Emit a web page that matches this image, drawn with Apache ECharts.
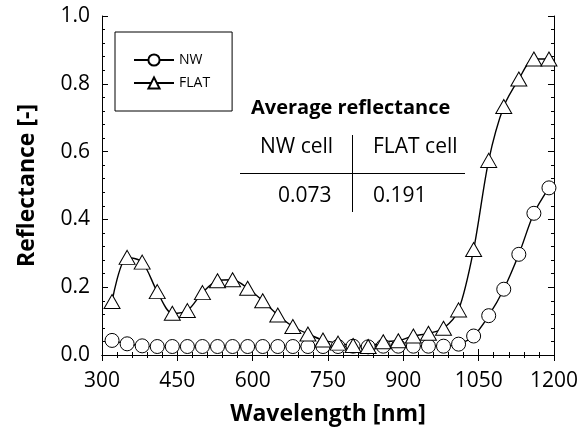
<!DOCTYPE html>
<html><head><meta charset="utf-8">
<script src="https://cdn.jsdelivr.net/npm/echarts@6/dist/echarts.min.js"></script>
<style>html,body{margin:0;padding:0;background:#fff}#c{width:581px;height:436px}</style>
</head><body><div id="c"></div>
<script>
const wavelengths = [320,350,380,410,440,470,500,530,560,590,620,650,680,710,740,770,800,830,860,890,920,950,980,1010,1040,1070,1100,1130,1160,1190];
const nwValues   = [0.043,0.033,0.027,0.025,0.025,0.025,0.025,0.025,0.025,0.025,0.025,0.025,0.025,0.025,0.025,0.025,0.026,0.024,0.026,0.026,0.026,0.026,0.026,0.032,0.056,0.116,0.194,0.297,0.418,0.493];
const flatValues = [0.158,0.288,0.274,0.187,0.123,0.131,0.184,0.219,0.222,0.197,0.160,0.118,0.084,0.062,0.044,0.035,0.028,0.025,0.039,0.042,0.056,0.064,0.079,0.133,0.311,0.574,0.733,0.814,0.873,0.873];
const seriesNames = ['NW','FLAT'];
const xTicks = [300,450,600,750,900,1050,1200];
const yTicks = [0,0.2,0.4,0.6,0.8,1.0];
const tableTitle = 'Average reflectance';
const tableHeaders = ['NW cell','FLAT cell'];
const tableValues = ['0.073','0.191'];

const FONT = '"Open Sans", "Noto Sans", sans-serif';
const chart = echarts.init(document.getElementById('c'), null, {renderer:'canvas'});
const pair = (xs, ys) => xs.map((x,i)=>[x, ys[i]]);
const axisCommon = {
  axisLine:{show:true, lineStyle:{color:'#000', width:1}},
  splitLine:{show:false},
};
chart.setOption({
  animation:false,
  backgroundColor:'#fff',
  grid:{left:102, right:26, top:16, bottom:81, containLabel:false},
  legend:{
    orient:'vertical', left:115, top:32,
    data:seriesNames,
    itemWidth:40, itemHeight:14, itemGap:9,
    padding:[21,22,21,18],
    borderColor:'#000', borderWidth:1,
    textStyle:{fontFamily:FONT, fontSize:14, color:'#000'}
  },
  xAxis:[
    Object.assign({type:'value', min:xTicks[0], max:xTicks[xTicks.length-1], interval:150,
      axisTick:{show:true, inside:true, length:6, lineStyle:{color:'#000'}},
      minorTick:{show:true, splitNumber:5, length:3, lineStyle:{color:'#000'}},
      axisLabel:{fontFamily:FONT, fontSize:21, color:'#000', margin:16, formatter:v=>String(v)},
      name:'Wavelength [nm]', nameLocation:'middle', nameGap:48,
      nameTextStyle:{fontFamily:FONT, fontSize:23, fontWeight:'bold', color:'#000'}
    }, axisCommon),
    Object.assign({type:'value', position:'top', min:xTicks[0], max:xTicks[xTicks.length-1], interval:150,
      axisTick:{show:true, inside:true, length:6, lineStyle:{color:'#000'}},
      minorTick:{show:true, splitNumber:5, length:3, lineStyle:{color:'#000'}},
      axisLabel:{show:false}
    }, axisCommon)
  ],
  yAxis:[
    Object.assign({type:'value', min:yTicks[0], max:yTicks[yTicks.length-1], interval:0.2,
      axisTick:{show:true, inside:true, length:6, lineStyle:{color:'#000'}},
      minorTick:{show:true, splitNumber:5, length:3, lineStyle:{color:'#000'}},
      axisLabel:{fontFamily:FONT, fontSize:21, color:'#000', margin:12, formatter:v=>v.toFixed(1)},
      name:'Reflectance [-]', nameLocation:'middle', nameGap:63, nameRotate:90,
      nameTextStyle:{fontFamily:FONT, fontSize:23, fontWeight:'bold', color:'#000'}
    }, axisCommon),
    Object.assign({type:'value', position:'right', min:yTicks[0], max:yTicks[yTicks.length-1], interval:0.2,
      axisTick:{show:true, inside:true, length:6, lineStyle:{color:'#000'}},
      minorTick:{show:true, splitNumber:5, length:3, lineStyle:{color:'#000'}},
      axisLabel:{show:false}
    }, axisCommon)
  ],
  series:[
    {name:seriesNames[0], type:'line', data:pair(wavelengths,nwValues), smooth:0.3,
     symbol:'circle', symbolSize:14, showAllSymbol:true,
     lineStyle:{color:'#000', width:1.4},
     itemStyle:{color:'#fff', borderColor:'#000', borderWidth:1}},
    {name:seriesNames[1], type:'line', data:pair(wavelengths,flatValues), smooth:0.3,
     symbol:'triangle', symbolSize:[16,14], showAllSymbol:true,
     lineStyle:{color:'#000', width:1.4},
     itemStyle:{color:'#fff', borderColor:'#000', borderWidth:1}}
  ],
  graphic:[
    {type:'text', left:251, top:98, style:{text:tableTitle, font:'bold 20px '+FONT, fill:'#000'}},
    {type:'text', left:260, top:137, style:{text:tableHeaders[0], font:'21px '+FONT, fill:'#000'}},
    {type:'text', left:373, top:137, style:{text:tableHeaders[1], font:'21px '+FONT, fill:'#000'}},
    {type:'text', left:278, top:186, style:{text:tableValues[0], font:'21px '+FONT, fill:'#000'}},
    {type:'text', left:373, top:186, style:{text:tableValues[1], font:'21px '+FONT, fill:'#000'}},
    {type:'line', shape:{x1:240, y1:173.5, x2:465, y2:173.5}, style:{stroke:'#000', lineWidth:1}},
    {type:'line', shape:{x1:352.5, y1:135, x2:352.5, y2:212}, style:{stroke:'#000', lineWidth:1}}
  ]
});
</script></body></html>
